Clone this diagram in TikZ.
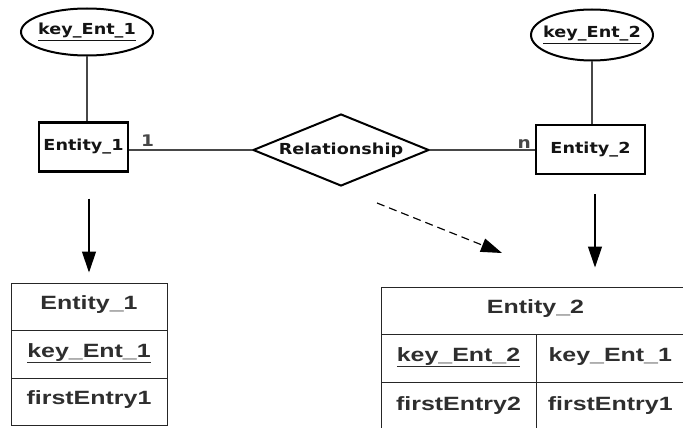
\documentclass[tikz,border=0pt]{standalone}
\usepackage{fontspec}
\usetikzlibrary{shapes.geometric,arrows.meta}

\newfontfamily\erfont[FakeStretch=1.16]{DejaVu Sans}
\newfontfamily\tabfont[FakeStretch=1.3]{Liberation Sans}
\newcommand{\ertext}{\erfont\bfseries\fontsize{15.2}{17}\selectfont}
\newcommand{\cardtext}{\erfont\bfseries\fontsize{16}{18}\selectfont}
\newcommand{\tabtext}{\tabfont\bfseries\fontsize{19.2}{22}\selectfont}

\tikzstyle{entity}=[rectangle,draw,line width=2.4pt,minimum height=49pt,inner sep=0pt,text=black!92,font=\ertext]
\tikzstyle{keyattr}=[ellipse,draw,line width=2pt,inner ysep=0pt,text=black!92,font=\ertext]
\tikzstyle{relship}=[diamond,draw,line width=2pt,aspect=2.44,minimum width=176pt,minimum height=72pt,inner sep=0pt,text=black!92,font=\ertext]
\tikzstyle{link}=[line width=1.6pt,black!72]
\tikzstyle{card}=[inner sep=3pt,font=\cardtext]
\tikzstyle{cell}=[rectangle,draw=black!85,line width=1pt,inner sep=0pt,text height=14pt,text depth=8pt,text=black!82,font=\tabtext]
\tikzstyle{arrow}=[line width=1.2pt,-{Triangle[length=21pt,width=14pt]}]

\begin{document}
\begin{tikzpicture}[x=1pt,y=-1pt]
    \useasboundingbox (0,0) rectangle (683,428);
    \clip (0,0) rectangle (683,428);

    %ER part
    \node[keyattr,inner xsep=-3pt,minimum width=132pt,minimum height=47pt] (k1) at (87,32) {\underline{key\_Ent\_1}};
    \node[keyattr,inner xsep=-6.5pt,minimum width=122pt,minimum height=51pt] (k2) at (592,35) {\underline{key\_Ent\_2}};
    \node[entity,minimum width=89pt] (e1) at (83.5,147) {Entity\_1};
    \node[entity,minimum width=109pt] (e2) at (590.5,149.5) {Entity\_2};
    \node[relship] (rel) at (341,150) {Relationship};

    \draw[link] (k1.south) -- (k1.south |- e1.north);
    \draw[link] (k2.south) -- (k2.south |- e2.north);
    \draw[link] (rel.west -| e1.east) -- node[card,pos=0.15,above] (c1) {1} (rel.west);
    \draw[link] (rel.east) -- node[card,pos=0.9,above,inner sep=1pt] (cn) {n} (rel.east -| e2.west);

    %Tables
    \node[cell,minimum width=156pt,minimum height=47pt] (t1head) at (89,306.5) {Entity\_1};
    \node[cell,minimum width=156pt,minimum height=48pt] (t1key) at (89,354) {\underline{key\_Ent\_1}};
    \node[cell,minimum width=156pt,minimum height=47pt] (t1first) at (89,401.5) {firstEntry1};

    \node[cell,minimum width=309pt,minimum height=47pt] (t2head) at (535.5,310.5) {Entity\_2};
    \node[cell,minimum width=155pt,minimum height=48pt] (t2key2) at (458.5,358) {\underline{key\_Ent\_2}};
    \node[cell,minimum width=148.5pt,minimum height=48pt] (t2key1) at (610.25,358) {key\_Ent\_1};
    \node[cell,minimum width=155pt,minimum height=50pt] (t2first2) at (458.5,407) {firstEntry2};
    \node[cell,minimum width=148.5pt,minimum height=50pt] (t2first1) at (610.25,407) {firstEntry1};

    %Arrows
    \draw[arrow,shorten <=26pt,shorten >=10pt] (t1head.north |- e1.south) -- (t1head.north);
    \draw[arrow,shorten <=19pt,shorten >=19pt] ([xshift=4.5pt]e2.south) -- ([xshift=4.5pt]e2.south |- t2head.north);
    \coordinate (dashfrom) at (377,203);
    \coordinate (dashto) at (502,253);
    \draw[arrow,dash pattern=on 8pt off 5pt] (dashfrom) -- (dashto);
\end{tikzpicture}
\end{document}
